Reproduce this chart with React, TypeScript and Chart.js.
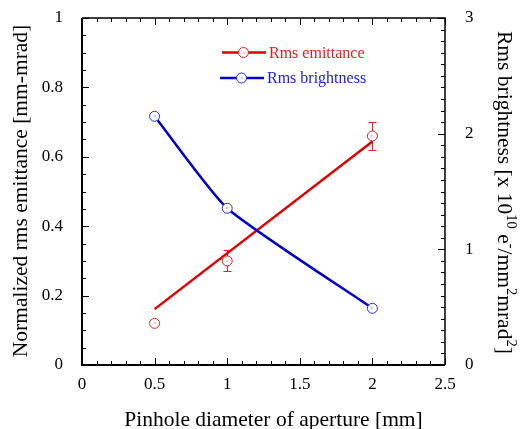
import React, { useEffect, useRef } from "react";
import { Chart, registerables } from "chart.js";

Chart.register(...registerables);

// ---- data ----
const xValues = [0.5, 1, 2];
const emittance = [0.12, 0.3, 0.66];
const emittanceErr = [0, 0.03, 0.04];
const brightness = [2.15, 1.355, 0.49];
const fitX = [0.5, 2];
const emittanceFit = [0.161, 0.644];

const xTitle = "Pinhole diameter of aperture [mm]";
const yTitle = "Normalized rms emittance [mm-mrad]";
const y2TitleParts: [string, boolean][] = [
  ["Rms brightness [x 10", false],
  ["10", true],
  [" e", false],
  ["-", true],
  ["/mm", false],
  ["2", true],
  ["mrad", false],
  ["2", true],
  ["]", false],
];
const legendLabels = ["Rms emittance", "Rms brightness"];

const FONT = "'Liberation Serif', 'Times New Roman', Times, serif";
const RED = "#e00000";
const RED_PT = "#e82020";
const BLUE = "#0000c8";
const BLUE_PT = "#2a2ae8";

const fmt = (v: any) => String(Math.round(Number(v) * 100) / 100);

const decorPlugin = {
  id: "decor",
  beforeDatasetsDraw(chart: any) {
    const ctx = chart.ctx;
    const x = chart.scales.x;
    const y = chart.scales.y;
    ctx.save();
    ctx.strokeStyle = RED_PT;
    ctx.lineWidth = 1;
    xValues.forEach((xv, i) => {
      const e = emittanceErr[i];
      if (!e) return;
      const px = Math.round(x.getPixelForValue(xv)) + 0.5;
      const top = Math.round(y.getPixelForValue(emittance[i] + e)) + 0.5;
      const bot = Math.round(y.getPixelForValue(emittance[i] - e)) + 0.5;
      ctx.beginPath();
      ctx.moveTo(px, top);
      ctx.lineTo(px, bot);
      ctx.moveTo(px - 4, top);
      ctx.lineTo(px + 4, top);
      ctx.moveTo(px - 4, bot);
      ctx.lineTo(px + 4, bot);
      ctx.stroke();
    });
    ctx.restore();
  },
  afterDatasetsDraw(chart: any) {
    const ctx = chart.ctx;
    const { left, right, top, bottom } = chart.chartArea;
    const x = chart.scales.x;
    const y = chart.scales.y;
    const y2 = chart.scales.y2;
    ctx.save();

    // centre dots of markers
    const dot = (px: number, py: number, c: string) => {
      ctx.fillStyle = c;
      ctx.fillRect(Math.round(px) - 0.5, Math.round(py) - 0.5, 1, 1);
    };
    xValues.forEach((xv, i) => {
      dot(x.getPixelForValue(xv), y.getPixelForValue(emittance[i]), RED_PT);
      dot(x.getPixelForValue(xv), y2.getPixelForValue(brightness[i]), BLUE_PT);
    });

    // frame
    ctx.strokeStyle = "#000";
    ctx.lineWidth = 2;
    ctx.beginPath();
    ctx.moveTo(left, top);
    ctx.lineTo(left, bottom);
    ctx.lineTo(right, bottom);
    ctx.stroke();
    ctx.lineWidth = 1.5;
    ctx.beginPath();
    ctx.moveTo(left, top);
    ctx.lineTo(right, top);
    ctx.lineTo(right, bottom);
    ctx.stroke();

    // inward ticks
    ctx.lineWidth = 1;
    ctx.beginPath();
    for (let i = 0; i <= 25; i++) {
      const px = Math.round(x.getPixelForValue(i / 10)) + 0.5;
      const len = i % 5 === 0 ? 7 : 4;
      ctx.moveTo(px, bottom);
      ctx.lineTo(px, bottom - len);
      ctx.moveTo(px, top);
      ctx.lineTo(px, top + len);
    }
    for (let i = 0; i <= 20; i++) {
      const py = Math.round(y.getPixelForValue(i * 0.05)) + 0.5;
      const len = i % 4 === 0 ? 7 : 4;
      ctx.moveTo(left, py);
      ctx.lineTo(left + len, py);
    }
    for (let i = 0; i <= 30; i++) {
      const py = Math.round(y2.getPixelForValue(i / 10)) + 0.5;
      const len = i % 10 === 0 ? 7 : 4;
      ctx.moveTo(right, py);
      ctx.lineTo(right - len, py);
    }
    ctx.stroke();

    // legend
    const legendItem = (lx: number, ly: number, lineC: string, ptC: string, textC: string, label: string) => {
      ctx.strokeStyle = lineC;
      ctx.lineWidth = 2.5;
      ctx.beginPath();
      ctx.moveTo(lx, ly);
      ctx.lineTo(lx + 44, ly);
      ctx.stroke();
      ctx.beginPath();
      ctx.arc(lx + 21.5, ly, 5, 0, Math.PI * 2);
      ctx.fillStyle = "#fff";
      ctx.fill();
      ctx.lineWidth = 1;
      ctx.strokeStyle = ptC;
      ctx.stroke();
      dot(lx + 21.5, ly, ptC);
      ctx.fillStyle = textC;
      ctx.font = `16px ${FONT}`;
      ctx.textAlign = "left";
      ctx.textBaseline = "middle";
      ctx.fillText(label, lx + 47, ly + 1);
    };
    legendItem(222, 52.5, RED, RED_PT, "#e41c1c", legendLabels[0]);
    legendItem(220, 78, BLUE, BLUE_PT, "#2020dc", legendLabels[1]);

    // titles
    ctx.fillStyle = "#000";
    ctx.font = `21.5px ${FONT}`;
    ctx.textBaseline = "alphabetic";
    ctx.textAlign = "center";
    ctx.fillText(xTitle, 273.5, 426);

    ctx.save();
    ctx.translate(26.5, 191);
    ctx.rotate(-Math.PI / 2);
    ctx.fillText(yTitle, 0, 0);
    ctx.restore();

    // right title with superscripts
    ctx.save();
    ctx.translate(498, 192.4);
    ctx.rotate(Math.PI / 2);
    ctx.textAlign = "left";
    const normalFont = `21.5px ${FONT}`;
    const supFont = `14.5px ${FONT}`;
    let total = 0;
    y2TitleParts.forEach(([t, sup]) => {
      ctx.font = sup ? supFont : normalFont;
      total += ctx.measureText(t).width;
    });
    let cx = -total / 2;
    y2TitleParts.forEach(([t, sup]) => {
      ctx.font = sup ? supFont : normalFont;
      ctx.fillText(t, cx, sup ? -9 : 0);
      cx += ctx.measureText(t).width;
    });
    ctx.restore();

    ctx.restore();
  },
};

export default function App() {
  const ref = useRef<HTMLCanvasElement | null>(null);
  useEffect(() => {
    if (!ref.current) return;
    const tickFont = { family: FONT, size: 17 };
    const chart = new Chart(ref.current, {
      type: "scatter",
      data: {
        datasets: [
          {
            label: "emittance points",
            data: xValues.map((xv, i) => ({ x: xv, y: emittance[i] })),
            yAxisID: "y",
            showLine: false,
            pointRadius: 5,
            pointBorderWidth: 1,
            pointBorderColor: RED_PT,
            pointBackgroundColor: "#fff",
            order: 0,
          },
          {
            label: "brightness",
            data: xValues.map((xv, i) => ({ x: xv, y: brightness[i] })),
            yAxisID: "y2",
            showLine: true,
            borderColor: BLUE,
            borderWidth: 2.5,
            tension: 0.18,
            pointRadius: 5,
            pointBorderWidth: 1,
            pointBorderColor: BLUE_PT,
            pointBackgroundColor: "#fff",
            order: 1,
          },
          {
            label: "emittance fit",
            data: fitX.map((xv, i) => ({ x: xv, y: emittanceFit[i] })),
            yAxisID: "y",
            showLine: true,
            borderColor: RED,
            borderWidth: 2.5,
            pointRadius: 0,
            order: 2,
          },
        ] as any,
      },
      options: {
        responsive: false,
        animation: false,
        devicePixelRatio: 1,
        layout: { padding: { top: 18, left: 0, right: 0, bottom: 0 } },
        plugins: { legend: { display: false }, tooltip: { enabled: false } },
        scales: {
          x: {
            type: "linear",
            min: 0,
            max: 2.5,
            ticks: { stepSize: 0.5, font: tickFont, color: "#000", padding: 1, maxRotation: 0, callback: fmt },
            grid: { display: false },
            border: { display: false },
            afterFit: (s: any) => {
              s.height = 64;
              s.paddingLeft = 0;
              s.paddingRight = 0;
            },
          },
          y: {
            type: "linear",
            position: "left",
            min: 0,
            max: 1,
            ticks: { stepSize: 0.2, font: tickFont, color: "#000", padding: 11, callback: fmt },
            grid: { display: false },
            border: { display: false },
            afterFit: (s: any) => {
              s.width = 82;
              s.paddingTop = 0;
              s.paddingBottom = 0;
            },
          },
          y2: {
            type: "linear",
            position: "right",
            min: 0,
            max: 3,
            ticks: { stepSize: 1, font: tickFont, color: "#000", padding: 12, callback: fmt },
            grid: { display: false },
            border: { display: false },
            afterFit: (s: any) => {
              s.width = 75;
              s.paddingTop = 0;
              s.paddingBottom = 0;
            },
          },
        },
      } as any,
      plugins: [decorPlugin],
    });
    return () => chart.destroy();
  }, []);
  return (
    <div style={{ position: "absolute", left: 0, top: 0, width: 520, height: 429, background: "#fff" }}>
      <canvas ref={ref} width={520} height={429} style={{ display: "block" }} />
    </div>
  );
}
